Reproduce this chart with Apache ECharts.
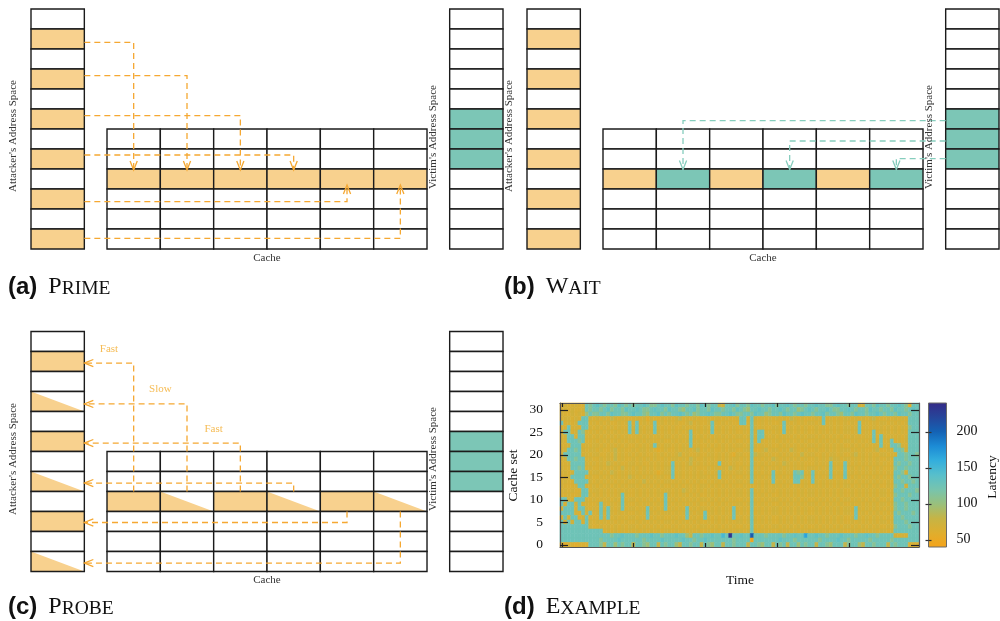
<!DOCTYPE html>
<html>
<head>
<meta charset="utf-8">
<title>Prime+Probe</title>
<script src="https://cdn.jsdelivr.net/npm/echarts@6/dist/echarts.min.js"></script>
<style>
  html, body { margin: 0; padding: 0; background: #ffffff; }
  #chart { width: 1000px; height: 621px; }
</style>
</head>
<body>
<div id="chart"></div>
<script>
// ---------------- Colours ----------------
const ORANGE = '#F8D18E';
const TEAL = '#7CC6B6';
const ARROW_ORANGE = '#F5A832';
const ARROW_TEAL = '#86CDBD';
const LABEL_ORANGE = '#F6BC55';
const LINE = '#1b1b1b';
const SERIF = '"Liberation Serif", "Times New Roman", serif';
const SANS = '"Liberation Sans", Arial, sans-serif';

// ---------------- Diagram content ----------------
// line state: 0 free, 1 attacker line, 2 victim line, 3 attacker line evicted (partly)
const attackerPrime = [0, 1, 0, 1, 0, 1, 0, 1, 0, 1, 0, 1];
const attackerWait  = [0, 1, 0, 1, 0, 1, 0, 1, 0, 1, 0, 1];
const attackerProbe = [0, 1, 0, 3, 0, 1, 0, 3, 0, 1, 0, 3];
const victimLines   = [0, 0, 0, 0, 0, 2, 2, 2, 0, 0, 0, 0];
const cacheSetPrime = [1, 1, 1, 1, 1, 1];
const cacheSetWait  = [1, 2, 1, 2, 1, 2];
const cacheSetProbe = [1, 3, 1, 3, 1, 3];
const CACHE_WAYS = 6;
const CACHE_SETS = 6;
const CACHE_FIRST_ROW = 6;   // cache set 0 lines up with address row 6
const TARGET_SET = 2;

// arrows: [lane (address row units), cache way]
const primeArrows = [[1.67, 0], [3.33, 1], [5.33, 2], [7.30, 3], [9.63, 4], [11.47, 5]];
const waitArrows  = [[5.58, 1], [6.60, 3], [7.48, 5]];
const probeArrows = [[1.58, 0], [3.62, 1], [5.58, 2], [7.58, 3], [9.55, 4], [11.58, 5]];
const probeTimings = ['Fast', 'Slow', 'Fast'];

// ---------------- Measured latency (Example) ----------------
// one letter per time step (100 steps), rows listed from cache set 31 down to 0
const LATENCY_LEVELS = { a: 45, b: 58, c: 66, d: 71, e: 82, f: 98, g: 110, h: 126, i: 134, j: 148, k: 165, l: 205, m: 232 };
const latencyRows = [
  'cdccdcchgh ihghhgihgh ghhihgghih hgihhghhgi hghhedhhig hhgihhghhi ghhihghhgh hihhgghihh ghhddhhgih hghhihgbhh',
  'cdcdccdhgh hghighhgih hihgghihhg ihhgfhhigh hgihhghhgi hgfhhihhgh hihghhfghi hghhihgghh ihghhgihhg hhgihhghih',
  'dccdcdcfhg ghhgihhggh ihhgfhhigh ghhihghfgh hihgghhihg ghhgihhfgh hgihhghihh ghhighhgfh hgihhghhih ghhgihhghh',
  'cddcdchhdc dcdcedcdcc cdcdbdccdc dcdecdcdcc cdcddcdccd hhchdcdcdc dcdcedcdcc cdchcdcdcd dcdcdcdecc cdcdcdchhh',
  'hcdcdhhhcd cdcdccdcdh chcdcdhcdc dcdccdecdc cdhdcdcdcc hhchdcdcdc cdhdcdcdcd dcdhcdcdcd cdchcdcdcd dcdcdcdhhh',
  'cchcdchhdc dcdcdcdcch dhdcdchdcd cdccdcdcdc dchcdcdcdc cdchdcdccd dchcdcdcdc cdcdcdcdcd dcdhcdcdcd cdcdcdcghh',
  'chhcdhgdcd cdcdcdcdch dhdcdchdcd cdcdcdhcdc dchcdcdcdc cdchdhhcdc dchcdcdcdc cdcdcdcdcd dcdhcdchcd cdcdcdchhh',
  'cdhhchhcdc dcdcdcdcdc cdcdcdcdcd dcdcdchdcd cdcdcdcdcd dcdhdhhdcd cdcdcdcdcd dcdcdcdcdc cdcdcdchch dcdcdcdhhh',
  'dchhhghccd cdcdcdcdcd dcdcdcdcdc cdcdcdhcdc dcdcdcdcdc cdchchdcdc dcdcdcdcdc cdcdcdcdcd dcdcdcdhdh cdhcdcdhhh',
  'ccdhhhcdcd dcdcdcdcdc cdcdcdhdcd dcdcdchcdc cdcdcdcdcd dcdhdcdcdc cdcdcdcdcd dcdcdcdcdc cdcdcdcdch dchhgdchhh',
  'cdhhghdcdd cdccdecdcc dcddcdcbcd ccdcddcdec dcdccdcddc cddhccdecd dcdcedccdc cdccdcdcdd dcdcdccdec cddhhgdhhh',
  'chhhhhcdcd dccdcecdcd cdcdccdcdc dcdecdccdc cddcdcdcbd dccheddcdc cdcdcdcecd dccdcddcdc cdecdcdccd dcdchhghhg',
  'cdhhghhcdc cdcdcecdcc dcdcdcdccd cddcdcedcc dcdcdcdcdd cdchcdcdce dcdcdcdcdc cdcdceddcd dcdcdcdcdc cdchhhghhh',
  'ccdhhhhdcd cdcedcdccd dcdccdcdcd chcdcdecdc dcdchcdcdc cdchdcdcdc dcedcdcdcc cdcdchcdch dcdcdcdcdc dcchghhghh',
  'dcchhghcdc cdcdcdcecd cdcdcdcdcd dhcdcdcdcc cdcdcdcedc dcdhcdcdcd cdcdcdcdcd dcdcdhdcdh cdcdcdcdcd ccdghhghhh',
  'cdcdhhhhcd dcdcedcdcd cdcdcdcbcd dhcdcdcdcd cdcdhdcdcd dcdhcdcdch cdcdchghcd hdcdchcdch cdcdcdcdcd cdchhgdhhh',
  'ccdhhhhcdc cdcdcdcdce dcdcdcdcdc chcdcdcdcd dcdchcdcdc cdchdcdcdh dcdcdhhgdc hcdcdhdcdh dcdcdcdcdc dcdhghhghh',
  'cdcchhhhdc dcdcdcdcdc cdcecdcdcd dcdcdcdcdc cdcdcdcdcd dcdhcdcdch cdcdchhcdc hdcdcdcdcd cdcdcdcdcd cdchhghhgh',
  'dcccdhhdcd cdcdcdcdcd dcdcdcdcdc cdcdcdcdcd dcdcdcdcdc cdcdcdcdcd dcdcdcdcdc cdcdcdcdcd dcdcdcdcdc cdcghhdhhh',
  'cdcdcchhcd dcdcdcdcdc cdcdcdcdcd dcdcedcdcd cdcdcdcdcd dcdhcdcdcd cdcdcdcdcd dcdcdcdcdc cdcdcdcdcd dcdhhghhhg',
  'ccdccdhhdc dcdcdcdhdc cdcdcdcdch dcdcdcdcdc cdcdcdcdcd dcdhdcdcdc cdcdcdcdcd dcdcdcdcdc cdcdcdcdcd dcdghhhghh',
  'hhdchhhdcd cdcdcdchcd dcdcdcdcdh cdcdcdcdcd dcdcdcdcdc cdchcdcdcd dcdcdcdcdc cdcdcdcdcd dcdcdcdcdc cdchhghhhh',
  'hchhdhcdcc dhdcdcdhdc cdcdcdcdch dcdcdcdcdc cdcdcdcdcd dcdhdcdcdc cdcdcdcdcd dcdcdcdcdc cdcdcdcdcd dcdghhghhh',
  'chhhchhdcd chdhdcdhcd dcdchcdcdh cdcdchcdcd dcdcdcdchc cdchcdcdcd dcdcdcdcdc cdcdcdcdcd dchdcdcdcd cdcghhghhh',
  'hhhhdchdhc dhdhdcdcdc cdcdhdcdcd dcdcdhdcdc hcdcdcdchd cdchcdcdcd dcdcdcdcdc cdcdcdcdcd dchcdcdcdc dcdhghhhgh',
  'chdhhcdhcd chdhcdcdcd dcdchcdcdc cdcdchcdcd hdcdcdcdhc dcdhdcdcdc cdcdcdcdcd dcdcdcdcdc cdhdcdcdcd cdchhghhhh',
  'hchdhhchdc dcdcdcdcdc cdcdcdcdcd dcdcdcdcdc cdcdcdcdcd dcdhdcdcdc cdcdcdcdcd dcdcdcdcdc cdcdcdcdcd dcdhhhghhh',
  'hhhhhhhhdc cdcdcdcdcd dcdcdcdcdc cdcdcdcdcd dcdcdcdcdc cdchcdcdcd dcdcdcdcdc cdcdcdcdcd dcdcdcdcdc cdcghhhghh',
  'hhhhhhhhhh hhcdcdcdcd cdcdcdcdcd dcdcdcdcdc cdcdcdcdcd dcdhdcdcdc cdcdcdcdcd dcdcdcdcdc cdcdcdcdcd dcdhhhhhhh',
  'hhhhhhhhhh hhhhghhihh hghhhihhgh hhihhfehhg hhihhjhmhh ihhlhhhghh hhghhihhkh hihhghhhih hhghhihhgh hhhdcdchhh',
  'hhhhhhhhhh hghhhhihhh hhhghhhhih hhhhihhghh ihhhhhhhgh hhhahhhhhh hihhhghhhh hhghhhhihh ghhhhhghhh hhghhhhhhh',
  'cbccbccchh hgehhfhghh ehhgfhhehg hhfehhghhe hgfhhehhgh hhehhgfhhe hghehhfhgh hehhgfhhhe ghhfehhghh hehghhhccc'
];
const TIME_STEPS = 100;
const SET_COUNT = 32;
const timeTicks = [0, 20, 40, 60, 80];
const setTicks = [0, 5, 10, 15, 20, 25, 30];
const latencyTicks = [50, 100, 150, 200];
const LATENCY_MIN = 40, LATENCY_MAX = 240;
const LATENCY_COLORS = ['#F5A31A', '#DFAE2E', '#C6B445', '#99C07C', '#77C4AE', '#58BFCB',
                        '#33AEDD', '#1C8BD5', '#1462B4', '#26459A', '#352A87'];

// ---------------- Layout (diagram units: one cache way wide, one line tall) ----------------
const PANEL_W = 8.831, PANEL_ROWS = 12;
const ATT_X = 0, CACHE_X = 1.425, VIC_X = 7.85;
const TARGET_ROW = CACHE_FIRST_ROW + TARGET_SET;
const wayCenter = w => CACHE_X + w + 0.5;

function panelCells(attacker, cacheSet, victim) {
  const cells = [];
  attacker.forEach((s, r) => cells.push([ATT_X, r, s]));
  victim.forEach((s, r) => cells.push([VIC_X, r, s]));
  for (let set = 0; set < CACHE_SETS; set++) {
    for (let w = 0; w < CACHE_WAYS; w++) {
      cells.push([CACHE_X + w, CACHE_FIRST_ROW + set, set === TARGET_SET ? cacheSet[w] : 0]);
    }
  }
  return cells;
}

// each path: [x0, y0, x1, y1, x2, y2], arrow head at the last point
const primePaths = primeArrows.map(([lane, w]) => {
  const tip = lane < TARGET_ROW ? TARGET_ROW + 0.05 : TARGET_ROW + 0.8;
  return [ATT_X + 1, lane, wayCenter(w), lane, wayCenter(w), tip];
});
const waitPaths = waitArrows.map(([lane, w]) =>
  [VIC_X, lane, wayCenter(w), lane, wayCenter(w), TARGET_ROW + 0.02]);
const probePaths = probeArrows.map(([lane, w]) => {
  const start = lane < TARGET_ROW ? TARGET_ROW : TARGET_ROW + 1;
  return [wayCenter(w), start, wayCenter(w), lane, ATT_X + 1, lane];
});
const probeLabelData = probeTimings.map((t, i) => {
  const prev = i === 0 ? ATT_X + 1 : wayCenter(probeArrows[i - 1][1]);
  return [(prev + wayCenter(probeArrows[i][1])) / 2, probeArrows[i][0] - 0.72, i];
});

const heatData = [];
latencyRows.forEach((line, k) => {
  const set = SET_COUNT - 1 - k;
  const cells = line.replace(/\s+/g, '');
  for (let t = 0; t < TIME_STEPS && t < cells.length; t++) {
    heatData.push([t, set, LATENCY_LEVELS[cells[t]]]);
  }
});

// ---------------- Render helpers ----------------
function renderCell(params, api) {
  const x = api.value(0), row = api.value(1), state = api.value(2);
  const tl = api.coord([x, row]);
  const br = api.coord([x + 1, row + 1]);
  const shape = { x: tl[0], y: tl[1], width: br[0] - tl[0], height: br[1] - tl[1] };
  const fill = state === 1 ? ORANGE : state === 2 ? TEAL : '#ffffff';
  const children = [{ type: 'rect', shape, style: { fill } }];
  if (state === 3) {
    children.push({ type: 'polygon', shape: { points: [[tl[0], tl[1]], [tl[0], br[1]], [br[0], br[1]]] },
                    style: { fill: ORANGE } });
  }
  children.push({ type: 'rect', shape, style: { fill: 'none', stroke: LINE, lineWidth: 1.4 } });
  return { type: 'group', children };
}

function renderArrow(color) {
  return function (params, api) {
    const pts = [0, 1, 2].map(i => api.coord([api.value(2 * i), api.value(2 * i + 1)]));
    const b = pts[1], c = pts[2];
    const dx = c[0] - b[0], dy = c[1] - b[1];
    const len = Math.hypot(dx, dy) || 1;
    const ux = dx / len, uy = dy / len;
    const L = 9, W = 3.6;
    const head = [[c[0] - ux * L - uy * W, c[1] - uy * L + ux * W], [c[0], c[1]],
                  [c[0] - ux * L + uy * W, c[1] - uy * L - ux * W]];
    return { type: 'group', children: [
      { type: 'polyline', shape: { points: pts }, style: { stroke: color, lineWidth: 1.3, lineDash: [6, 4], fill: 'none' } },
      { type: 'polyline', shape: { points: head }, style: { stroke: color, lineWidth: 1.3, fill: 'none' } }
    ] };
  };
}

function renderProbeLabel(params, api) {
  const p = api.coord([api.value(0), api.value(1)]);
  return { type: 'text', x: p[0], y: p[1],
           style: { text: probeTimings[api.value(2)], fill: LABEL_ORANGE, font: '11px ' + SERIF,
                    align: 'center', verticalAlign: 'middle' } };
}

function renderHeatCell(params, api) {
  const t = api.value(0), s = api.value(1);
  const p0 = api.coord([t - 0.5, s + 0.5]);
  const p1 = api.coord([t + 0.5, s - 0.5]);
  const color = api.visual('color');
  return { type: 'rect', shape: { x: p0[0], y: p0[1], width: p1[0] - p0[0], height: p1[1] - p0[1] },
           style: { fill: color, stroke: color, lineWidth: 0.6 } };
}

function renderColorBar(params, api) {
  const top = api.coord([0, api.value(2)]);
  const bottom = api.coord([1, api.value(1)]);
  const stops = LATENCY_COLORS.map((c, i) => ({ offset: i / (LATENCY_COLORS.length - 1), color: c }));
  return { type: 'rect', shape: { x: top[0], y: top[1], width: bottom[0] - top[0], height: bottom[1] - top[1] },
           style: { fill: new echarts.graphic.LinearGradient(0, 1, 0, 0, stops), stroke: '#6a6a6a', lineWidth: 1 } };
}

// ---------------- Grids & axes ----------------
const diagramGrids = [
  { left: 31, top: 9, width: 471, height: 240 },    // (a) Prime
  { left: 527, top: 9, width: 471, height: 240 },   // (b) Wait
  { left: 31, top: 331.5, width: 471, height: 240 } // (c) Probe
];
const grid = diagramGrids.concat([
  { left: 560, top: 403, width: 359, height: 144 },   // (d) heat map
  { left: 928.5, top: 403, width: 18, height: 144 }   // colour bar
]);

const hiddenX = i => ({ type: 'value', gridIndex: i, min: 0, max: PANEL_W, show: false });
const hiddenY = i => ({ type: 'value', gridIndex: i, min: 0, max: PANEL_ROWS, inverse: true, show: false });
const frameLine = { show: true, onZero: false, lineStyle: { color: '#555', width: 1.2 } };
const tickStyle = { color: '#222', width: 1.2 };
const labelFont = { fontFamily: SERIF, fontSize: 13.5, color: '#111' };

const xAxis = [hiddenX(0), hiddenX(1), hiddenX(2),
  { type: 'value', gridIndex: 3, min: -0.5, max: TIME_STEPS - 0.5, position: 'bottom', z: 10,
    axisLine: frameLine, splitLine: { show: false }, axisLabel: { show: false },
    axisTick: { show: true, inside: true, length: 4, customValues: timeTicks, lineStyle: tickStyle } },
  { type: 'value', gridIndex: 3, min: -0.5, max: TIME_STEPS - 0.5, position: 'top', z: 10,
    axisLine: frameLine, splitLine: { show: false }, axisLabel: { show: false },
    axisTick: { show: true, inside: true, length: 4, customValues: timeTicks, lineStyle: tickStyle } },
  { type: 'value', gridIndex: 4, min: 0, max: 1, show: false }
];
const yAxis = [hiddenY(0), hiddenY(1), hiddenY(2),
  { type: 'value', gridIndex: 3, min: -0.5, max: SET_COUNT - 0.5, position: 'left', z: 10,
    axisLine: frameLine, splitLine: { show: false },
    axisLabel: { show: true, customValues: setTicks, margin: 17, ...labelFont },
    axisTick: { show: true, inside: true, length: 8, customValues: setTicks, lineStyle: tickStyle } },
  { type: 'value', gridIndex: 3, min: -0.5, max: SET_COUNT - 0.5, position: 'right', z: 10,
    axisLine: frameLine, splitLine: { show: false }, axisLabel: { show: false },
    axisTick: { show: true, inside: true, length: 8, customValues: setTicks, lineStyle: tickStyle } },
  { type: 'value', gridIndex: 4, min: LATENCY_MIN, max: LATENCY_MAX, position: 'right', z: 10,
    axisLine: { show: false }, splitLine: { show: false },
    axisLabel: { show: true, customValues: latencyTicks, margin: 10, fontFamily: SERIF, fontSize: 14, color: '#111' },
    axisTick: { show: true, inside: true, length: 3, customValues: latencyTicks, lineStyle: { color: '#333', width: 1.2 } } },
  { type: 'value', gridIndex: 4, min: LATENCY_MIN, max: LATENCY_MAX, position: 'left', z: 10,
    axisLine: { show: false }, splitLine: { show: false }, axisLabel: { show: false },
    axisTick: { show: true, inside: true, length: 3, customValues: latencyTicks, lineStyle: { color: '#333', width: 1.2 } } }
];

// ---------------- Series ----------------
const series = [];
function addPanel(i, cells, paths, color) {
  series.push({ type: 'custom', xAxisIndex: i, yAxisIndex: i, renderItem: renderCell, data: cells, z: 2 });
  series.push({ type: 'custom', xAxisIndex: i, yAxisIndex: i, renderItem: renderArrow(color), data: paths, z: 3,
                encode: { x: [0, 2, 4], y: [1, 3, 5] } });
}
addPanel(0, panelCells(attackerPrime, cacheSetPrime, victimLines), primePaths, ARROW_ORANGE);
addPanel(1, panelCells(attackerWait, cacheSetWait, victimLines), waitPaths, ARROW_TEAL);
addPanel(2, panelCells(attackerProbe, cacheSetProbe, victimLines), probePaths, ARROW_ORANGE);
series.push({ type: 'custom', xAxisIndex: 2, yAxisIndex: 2, renderItem: renderProbeLabel, data: probeLabelData, z: 4 });
const HEAT_INDEX = series.length;
series.push({ type: 'custom', xAxisIndex: 3, yAxisIndex: 3, renderItem: renderHeatCell, data: heatData,
              encode: { x: 0, y: 1 }, progressive: 0, z: 2 });
series.push({ type: 'custom', xAxisIndex: 5, yAxisIndex: 5, renderItem: renderColorBar,
              data: [[0, LATENCY_MIN, LATENCY_MAX]], z: 2 });

// ---------------- Text ----------------
function vText(x, y, text, size, color) {
  return { type: 'text', x, y, rotation: Math.PI / 2, z: 20,
           style: { text, font: size + 'px ' + SERIF, fill: color || '#333',
                    align: 'center', verticalAlign: 'middle', textAlign: 'center', textVerticalAlign: 'middle' } };
}
function hText(x, y, text, size, color) {
  return { type: 'text', x, y, z: 20,
           style: { text, font: size + 'px ' + SERIF, fill: color || '#333',
                    align: 'center', verticalAlign: 'middle', textAlign: 'center', textVerticalAlign: 'middle' } };
}
function caption(x, yBottom, tag, first, rest) {
  return { type: 'text', x, y: yBottom, z: 20,
           style: { text: '{t|(' + tag + ')}{c|' + first + '}{s|' + rest + '}',
                    align: 'left', verticalAlign: 'bottom', textAlign: 'left', textVerticalAlign: 'bottom',
                    rich: {
                      t: { font: 'bold 24px ' + SANS, lineHeight: 24, verticalAlign: 'bottom', padding: [0, 11, 0, 0], fill: '#111' },
                      c: { font: '24px ' + SERIF, lineHeight: 24, verticalAlign: 'bottom', fill: '#111' },
                      s: { font: '19.5px ' + SERIF, lineHeight: 19.5, verticalAlign: 'bottom', fill: '#111' }
                    } } };
}

const graphic = [
  vText(13, 136, "Attacker's Address Space", 11), vText(433, 137, "Victim's Address Space", 11), hText(267, 258, 'Cache', 11),
  vText(509, 136, "Attacker's Address Space", 11), vText(929, 137, "Victim's Address Space", 11), hText(763, 258, 'Cache', 11),
  vText(13, 459, "Attacker's Address Space", 11), vText(433, 459, "Victim's Address Space", 11), hText(267, 580, 'Cache', 11),
  vText(513, 475.5, 'Cache set', 13.5, '#111'), hText(740, 580, 'Time', 13.5, '#111'), vText(992, 477, 'Latency', 13.5, '#111'),
  caption(8, 299, 'a', 'P', 'RIME'),
  caption(504, 299, 'b', 'W', 'AIT'),
  caption(8, 619, 'c', 'P', 'ROBE'),
  caption(504, 619, 'd', 'E', 'XAMPLE')
];

const chart = echarts.init(document.getElementById('chart'), null, { renderer: 'canvas', width: 1000, height: 621 });
chart.setOption({
  animation: false,
  backgroundColor: '#ffffff',
  grid,
  xAxis,
  yAxis,
  visualMap: {
    type: 'continuous', show: false, min: LATENCY_MIN, max: LATENCY_MAX, dimension: 2,
    seriesIndex: HEAT_INDEX, inRange: { color: LATENCY_COLORS }
  },
  series,
  graphic
});
</script>
</body>
</html>
